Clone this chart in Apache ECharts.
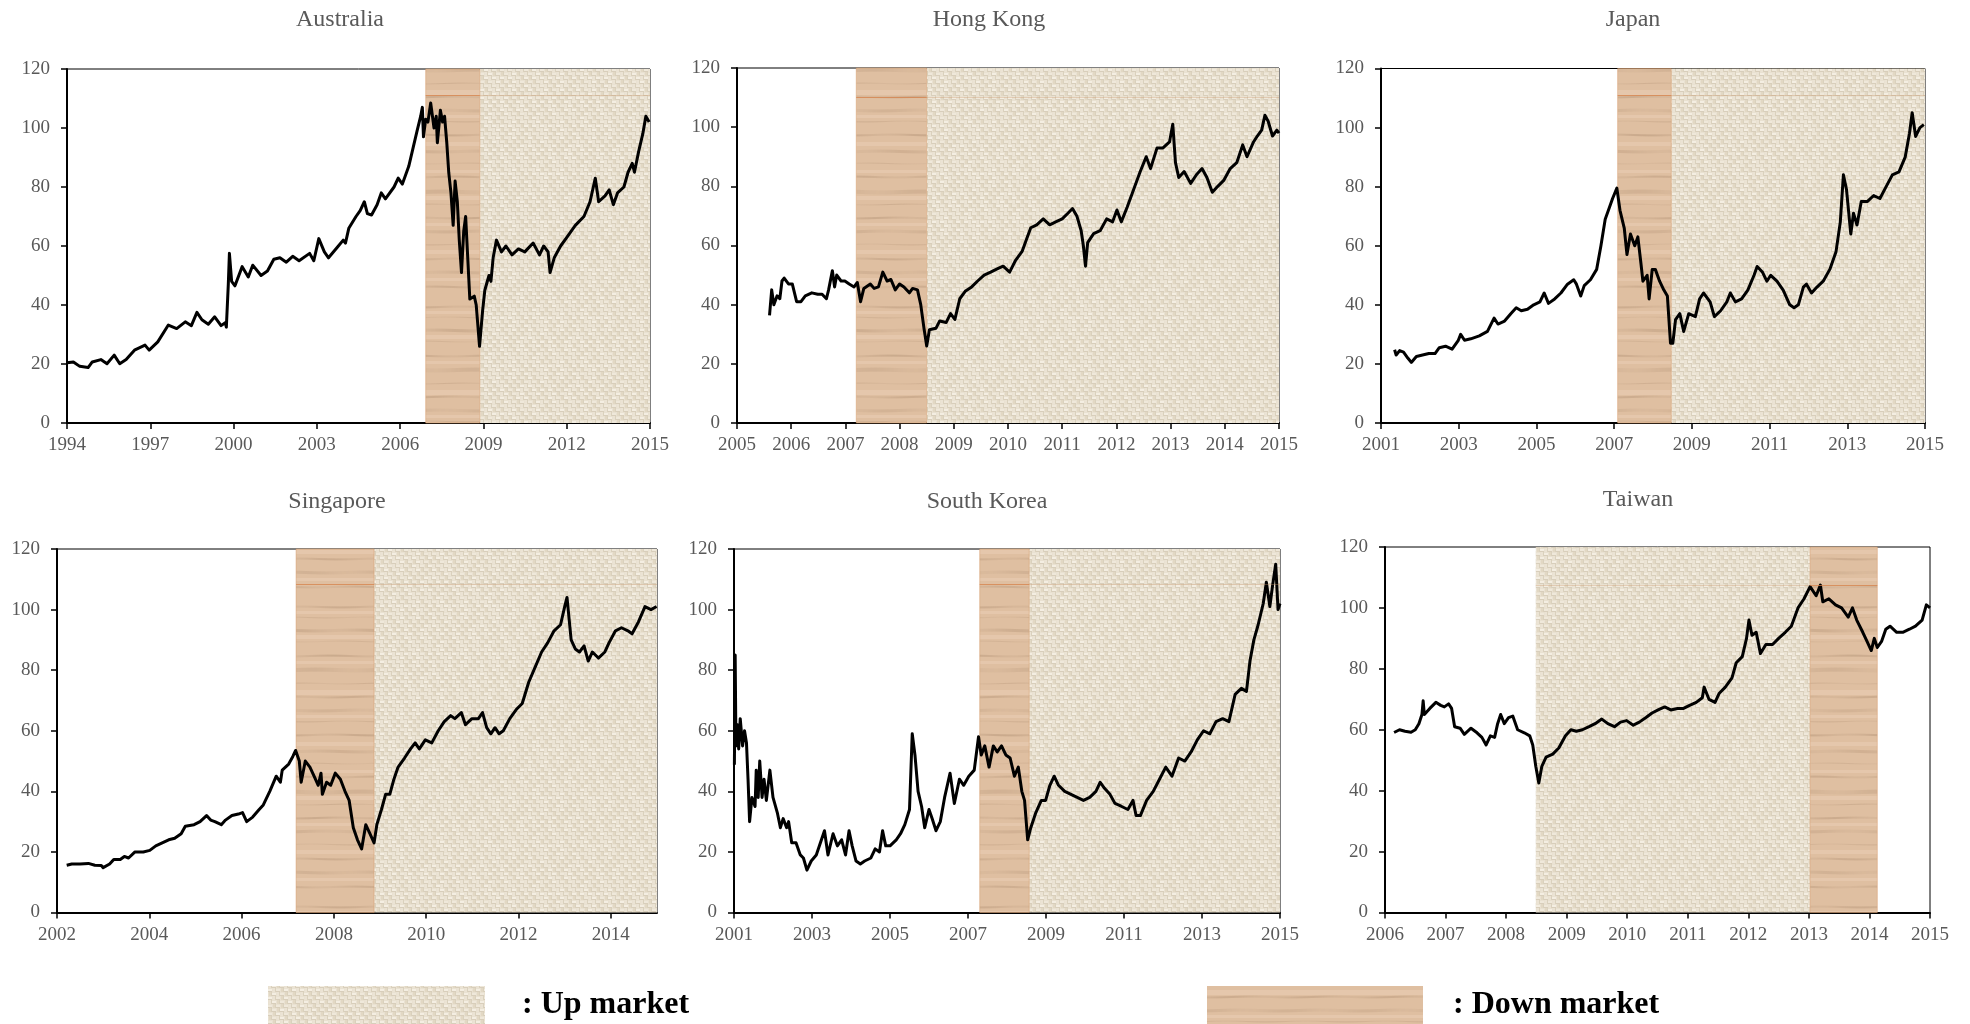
<!DOCTYPE html>
<html>
<head>
<meta charset="utf-8">
<script src="https://cdn.jsdelivr.net/npm/echarts@6/dist/echarts.min.js"></script>
<style>
html,body{margin:0;padding:0;background:#fff;}
#chart{width:1970px;height:1024px;}
</style>
</head>
<body>
<div id="chart"></div>
<script>
// ---------- DATA ----------
const australiaYears = [1994.00,1994.23,1994.46,1994.76,1994.91,1995.22,1995.44,1995.70,1995.90,1996.13,1996.43,1996.81,1996.96,1997.27,1997.65,1997.95,1998.26,1998.48,1998.68,1998.86,1999.09,1999.32,1999.55,1999.70,1999.74,1999.81,1999.85,1999.93,2000.05,2000.31,2000.53,2000.69,2000.99,2001.22,2001.45,2001.67,2001.90,2002.13,2002.36,2002.74,2002.89,2003.07,2003.27,2003.42,2003.73,2003.95,2004.03,2004.15,2004.41,2004.56,2004.71,2004.82,2004.97,2005.17,2005.32,2005.47,2005.78,2005.93,2006.08,2006.31,2006.46,2006.61,2006.74,2006.80,2006.84,2006.92,2007.00,2007.10,2007.22,2007.30,2007.34,2007.45,2007.53,2007.60,2007.68,2007.75,2007.83,2007.91,2007.98,2008.06,2008.13,2008.21,2008.29,2008.36,2008.44,2008.51,2008.67,2008.74,2008.86,2008.97,2009.05,2009.20,2009.27,2009.35,2009.47,2009.65,2009.81,2010.03,2010.26,2010.49,2010.79,2011.02,2011.17,2011.33,2011.40,2011.55,2011.78,2012.01,2012.31,2012.62,2012.84,2013.03,2013.15,2013.38,2013.53,2013.68,2013.83,2014.06,2014.21,2014.36,2014.44,2014.59,2014.74,2014.85,2014.97];
const australiaValues = [20.4,20.7,19.2,18.8,20.7,21.5,20.1,23.0,20.1,21.5,24.7,26.4,24.7,27.5,33.2,32.0,34.3,33,37.5,35,33.5,36,33,34,32.5,47,57.5,48,46.5,53,49.5,53.5,50,51.5,55.5,56,54.5,56.5,55,57.5,55,62.5,58,56,59.5,62,61,66,70,72,75,71,70.5,74,78,76,80,83,81,87,93,99,104,107,97,103,102,108.5,100,104,95,106,102,104,95,85,78,67,82,75,62,51,65,70,55,42,43,40,26,38,45,50,48,56,62,58,60,57,59,58,61,57,60,58,51,56,60,63,67,70,75,83,75,77,79,74,78,80,85,88,85,92,98,104,102];

const hongKongYears = [2005.60,2005.64,2005.68,2005.74,2005.79,2005.83,2005.87,2005.95,2006.02,2006.10,2006.18,2006.26,2006.38,2006.49,2006.57,2006.65,2006.69,2006.76,2006.80,2006.84,2006.92,2006.99,2007.07,2007.16,2007.22,2007.28,2007.34,2007.46,2007.53,2007.61,2007.69,2007.77,2007.84,2007.92,2008.00,2008.08,2008.18,2008.24,2008.33,2008.39,2008.45,2008.50,2008.55,2008.67,2008.74,2008.86,2008.94,2009.02,2009.11,2009.21,2009.33,2009.44,2009.56,2009.68,2009.79,2009.91,2010.03,2010.14,2010.26,2010.34,2010.42,2010.53,2010.65,2010.77,2010.88,2011.00,2011.11,2011.19,2011.27,2011.35,2011.39,2011.43,2011.47,2011.58,2011.70,2011.82,2011.93,2012.01,2012.09,2012.20,2012.32,2012.44,2012.55,2012.63,2012.75,2012.86,2012.98,2013.04,2013.09,2013.15,2013.25,2013.37,2013.48,2013.58,2013.67,2013.77,2013.87,2013.98,2014.10,2014.22,2014.33,2014.41,2014.53,2014.60,2014.68,2014.74,2014.80,2014.88,2014.96,2015.00];
const hongKongValues = [36.4,45,40,43,42,48,49,47,47,41,41,43,44,43.5,43.5,42,45,51.5,46,50,48,48,47,46,47.5,41,45.5,47,45.5,46,51,48,48.5,45,47,46,44,45.5,45,40,32,26,31.5,32,34.5,34,37,35,42,44.5,46,48,50,51,52,53,51,55,58,62,66,67,69,67,68,69,71,72.5,70,65,60,53,61,64,65,69,68,72,68,73,79,85,90,86,93,93,95,101,88,83,85,81,84,86,83,78,80,82,86,88,94,90,95,97,99,104,102,97,99,98];

const japanYears = [2001.35,2001.39,2001.48,2001.58,2001.69,2001.78,2001.91,2002.07,2002.23,2002.39,2002.50,2002.66,2002.83,2002.99,2003.05,2003.15,2003.31,2003.53,2003.74,2003.91,2004.01,2004.18,2004.34,2004.48,2004.61,2004.77,2004.93,2005.09,2005.20,2005.31,2005.47,2005.63,2005.80,2005.96,2006.03,2006.14,2006.23,2006.39,2006.55,2006.66,2006.77,2006.88,2006.96,2007.07,2007.15,2007.26,2007.33,2007.42,2007.53,2007.61,2007.69,2007.74,2007.85,2007.90,2007.98,2008.06,2008.17,2008.28,2008.37,2008.45,2008.51,2008.58,2008.69,2008.79,2008.92,2009.09,2009.20,2009.30,2009.47,2009.58,2009.74,2009.90,2009.99,2010.12,2010.28,2010.44,2010.60,2010.68,2010.82,2010.93,2011.03,2011.19,2011.35,2011.52,2011.63,2011.74,2011.87,2011.95,2012.08,2012.22,2012.38,2012.55,2012.71,2012.82,2012.90,2012.98,2013.09,2013.16,2013.25,2013.36,2013.52,2013.68,2013.84,2014.00,2014.16,2014.33,2014.49,2014.60,2014.67,2014.76,2014.87,2014.97];
const japanValues = [24.8,23,24.5,24,22,20.5,22.5,23,23.5,23.5,25.5,26,25,28,30,28,28.5,29.5,31,35.5,33.5,34.5,37,39,38,38.5,40,41,44,40.5,42,44,47,48.5,47,43,46.5,48.5,52,60,69,73,76,79.5,72,66,57,64,60,63,54,48,50,42,52,52,48,45,43,27,27,35,37,31,37,36,42,44,41,36,38,41,44,41,42,45,50,53,51,48,50,48,45,40,39,40,46,47,44,46,48,52,58,68,84,79,64,71,67,75,75,77,76,80,84,85,90,98,105,97,100,101];

const singaporeYears = [2002.21,2002.32,2002.50,2002.68,2002.82,2002.96,2003.00,2003.14,2003.23,2003.37,2003.46,2003.55,2003.69,2003.87,2004.01,2004.14,2004.28,2004.42,2004.55,2004.69,2004.78,2004.97,2005.10,2005.24,2005.33,2005.42,2005.56,2005.65,2005.79,2005.93,2006.02,2006.11,2006.24,2006.38,2006.47,2006.61,2006.75,2006.84,2006.88,2007.02,2007.11,2007.17,2007.25,2007.29,2007.38,2007.48,2007.57,2007.66,2007.72,2007.75,2007.84,2007.93,2008.03,2008.14,2008.24,2008.33,2008.42,2008.51,2008.60,2008.69,2008.78,2008.87,2008.93,2009.03,2009.12,2009.21,2009.30,2009.39,2009.53,2009.66,2009.76,2009.85,2009.98,2010.12,2010.26,2010.39,2010.53,2010.62,2010.76,2010.85,2010.99,2011.13,2011.22,2011.31,2011.40,2011.49,2011.58,2011.67,2011.81,2011.95,2012.08,2012.22,2012.36,2012.50,2012.63,2012.77,2012.91,2013.00,2013.05,2013.14,2013.23,2013.32,2013.42,2013.51,2013.60,2013.73,2013.87,2013.96,2014.10,2014.23,2014.37,2014.46,2014.60,2014.74,2014.87,2014.99];
const singaporeValues = [15.6,16,16,16.2,15.6,15.5,14.8,16,17.5,17.5,18.5,18,20,20,20.5,22,23,24,24.5,26,28.5,29,30,32,30.5,30,29,30.5,32,32.5,33,30,31.5,34,35.5,40,45,43,47,49,51.5,53.5,50,43,50,48,45,42,46,39,43,42,46,44,40,37,28,24,21,29,26,23,29,34,39,39,44,48,51,54,56,54,57,56,60,63,65,64,66,62,64,64,66,61,59,61,59,60,64,67,69,76,81,86,89,93,95,101,104,90,87,86,88,83,86,84,86,89,93,94,93,92,96,101,100,101];

const southKoreaYears = [2001.01,2001.03,2001.05,2001.09,2001.12,2001.16,2001.22,2001.27,2001.32,2001.36,2001.40,2001.46,2001.54,2001.57,2001.62,2001.66,2001.72,2001.77,2001.83,2001.92,2002.00,2002.11,2002.19,2002.26,2002.35,2002.40,2002.48,2002.59,2002.70,2002.78,2002.87,2002.98,2003.11,2003.19,2003.32,2003.41,2003.54,2003.65,2003.76,2003.86,2003.95,2004.03,2004.13,2004.24,2004.35,2004.51,2004.62,2004.73,2004.81,2004.89,2005.00,2005.16,2005.27,2005.38,2005.50,2005.57,2005.64,2005.72,2005.81,2005.89,2006.00,2006.08,2006.18,2006.29,2006.40,2006.54,2006.65,2006.78,2006.89,2007.02,2007.16,2007.27,2007.34,2007.43,2007.54,2007.65,2007.75,2007.86,2007.97,2008.08,2008.19,2008.29,2008.38,2008.45,2008.53,2008.61,2008.74,2008.88,2008.99,2009.10,2009.21,2009.32,2009.48,2009.64,2009.80,2009.96,2010.12,2010.28,2010.39,2010.50,2010.64,2010.77,2010.94,2011.10,2011.23,2011.31,2011.42,2011.58,2011.75,2011.91,2012.07,2012.23,2012.40,2012.56,2012.72,2012.88,2013.04,2013.20,2013.36,2013.53,2013.69,2013.85,2014.01,2014.14,2014.23,2014.33,2014.44,2014.57,2014.65,2014.74,2014.81,2014.89,2014.95,2015.00];
const southKoreaValues = [48.8,85,55,62,54,64,55,60,56,44,30,38,35,47,38,50,38,44,37,47,38,33,28,31,28,30,23,23,19,18,14,17,19,22,27,19,26,22,24,19,27,22,17,16,17,18,21,20,27,22,22,24,26,29,34,59,52,40,35,28,34,31,27,30,38,46,36,44,42,45,47,58,52,55,48,55,53,55,52,51,45,48,40,37,24,28,33,37,37,42,45,42,40,39,38,37,38,40,43,41,39,36,35,34,37,32,32,37,40,44,48,45,51,50,53,57,60,59,63,64,63,72,74,73,83,90,95,102,109,101,108,115,100,102];

const taiwanYears = [2006.15,2006.24,2006.33,2006.43,2006.50,2006.56,2006.61,2006.63,2006.65,2006.74,2006.84,2006.92,2006.98,2007.05,2007.10,2007.15,2007.24,2007.31,2007.42,2007.52,2007.60,2007.67,2007.74,2007.81,2007.86,2007.91,2007.97,2008.04,2008.11,2008.19,2008.30,2008.39,2008.44,2008.49,2008.54,2008.59,2008.66,2008.77,2008.87,2008.98,2009.07,2009.16,2009.26,2009.37,2009.47,2009.58,2009.68,2009.79,2009.89,2009.99,2010.10,2010.20,2010.31,2010.41,2010.51,2010.62,2010.72,2010.83,2010.93,2011.03,2011.14,2011.24,2011.27,2011.35,2011.45,2011.52,2011.62,2011.73,2011.80,2011.90,2011.97,2012.01,2012.06,2012.13,2012.20,2012.29,2012.40,2012.50,2012.61,2012.71,2012.82,2012.92,2013.02,2013.12,2013.19,2013.23,2013.33,2013.44,2013.54,2013.65,2013.72,2013.79,2013.89,2013.96,2014.03,2014.08,2014.13,2014.20,2014.27,2014.34,2014.45,2014.55,2014.66,2014.76,2014.87,2014.94,2015.00];
const taiwanValues = [59.1,60,59.5,59.2,60,62,65,69.5,65,67,69,68,67.5,68.5,67,61,60.5,58.5,60.5,59,57.5,55,58,57.5,62,65,62,64,64.5,60,59,58,55,48,42.5,48,51,52,54,58,60,59.5,60,61,62,63.5,62,61,62.5,63,61.5,62.5,64,65.5,66.5,67.5,66.5,67,67,68,69,70.5,74,70,69,72,74,77,82,84,90,96,91,92,85,88,88,90,92,94,100,103,107,104,107.5,102,103,101,100,97,100,96,92,89,86,90,87,89,93,94,92,92,93,94,96,101,100];

// market phases [start, end] in years
const australiaDown = [[2006.92, 2008.87]];
const australiaUp = [[2008.87, 2015.0]];
const hongKongDown = [[2007.20, 2008.50]];
const hongKongUp = [[2008.50, 2015.0]];
const japanDown = [[2007.09, 2008.47]];
const japanUp = [[2008.47, 2015.0]];
const singaporeDown = [[2007.18, 2008.87]];
const singaporeUp = [[2008.87, 2015.0]];
const southKoreaDown = [[2007.30, 2008.57]];
const southKoreaUp = [[2008.57, 2015.0]];
const taiwanDown = [[2013.02, 2014.13]];
const taiwanUp = [[2008.49, 2013.02]];

const yTicks = [0, 20, 40, 60, 80, 100, 120];

// ---------- TEXTURES ----------
function makeLinen() {
  const S = 48;
  const c = document.createElement('canvas'); c.width = S; c.height = S;
  const g = c.getContext('2d');
  g.fillStyle = '#e9e1d1'; g.fillRect(0, 0, S, S);
  for (let j = 0; j < S / 4; j++) for (let i = 0; i < S / 4; i++) {
    const x = i * 4, y = j * 4;
    const k = (i * 5 + j * 3 + ((i * j) % 4)) % 7;
    if ((i + j) % 2 === 0) {
      g.fillStyle = k < 3 ? '#f4eee2' : '#efe8da';
      g.fillRect(x, y + 1, 4, 2);
      g.fillStyle = 'rgba(196,184,160,0.45)';
      g.fillRect(x, y + 3, 4, 1);
    } else {
      g.fillStyle = k < 4 ? '#e2d8c4' : '#ebe3d4';
      g.fillRect(x + 1, y, 2, 4);
      g.fillStyle = 'rgba(196,184,160,0.4)';
      g.fillRect(x + 3, y, 1, 4);
    }
  }
  return c;
}
function makeWood() {
  const W = 80, H = 300;
  const c = document.createElement('canvas'); c.width = W; c.height = H;
  const g = c.getContext('2d');
  g.fillStyle = '#dfbfa1'; g.fillRect(0, 0, W, H);
  const dark = [[6,2,0.22],[17,1,0.16],[29,3,0.2],[41,1,0.14],[55,2,0.24],[68,4,0.15],[83,1,0.18],[96,2,0.22],[109,3,0.14],[121,1,0.2],[134,2,0.25],[150,3,0.17],[163,1,0.15],[176,2,0.22],[190,4,0.16],[204,1,0.2],[217,2,0.23],[230,3,0.16],[244,1,0.18],[258,2,0.22],[271,3,0.15],[286,2,0.2]];
  dark.forEach(([y, h, a], n) => {
    for (let x = 0; x < W; x++) {
      const f = 0.7 + 0.3 * Math.sin((x / W) * Math.PI * 2 + n * 1.7);
      g.fillStyle = 'rgba(140,108,80,' + (a * f).toFixed(3) + ')';
      const dy = Math.sin((x / W) * Math.PI * 2 + n) * 0.4;
      g.fillRect(x, y + dy, 1, h);
    }
  });
  const light = [[11,3],[35,4],[61,3],[90,5],[115,3],[142,4],[170,3],[196,4],[223,3],[250,4],[278,3]];
  light.forEach(([y, h]) => {
    g.fillStyle = 'rgba(240,214,192,0.35)';
    g.fillRect(0, y, W, h);
  });
  return c;
}
const linen = makeLinen();
const wood = makeWood();
const upFill = { image: linen, repeat: 'repeat' };
const downFill = { image: wood, repeat: 'repeat' };

// ---------- PANELS ----------
const FONT = '"Liberation Serif", "Times New Roman", serif';
const panels = [
  { name: 'Australia', years: australiaYears, values: australiaValues, up: australiaUp, down: australiaDown,
    base: 1994, span: 21, step: 3, hideMax: false, rect: [67, 69, 583, 354], titlePos: [340, 20], streak: 111 },
  { name: 'Hong Kong', years: hongKongYears, values: hongKongValues, up: hongKongUp, down: hongKongDown,
    base: 2005, span: 10, step: 1, hideMax: false, rect: [737, 68, 542, 355], titlePos: [989, 20], streak: 110 },
  { name: 'Japan', years: japanYears, values: japanValues, up: japanUp, down: japanDown,
    base: 2001, span: 14, step: 2, hideMax: false, rect: [1381, 68.5, 544, 354.5], titlePos: [1633, 20], streak: 111 },
  { name: 'Singapore', years: singaporeYears, values: singaporeValues, up: singaporeUp, down: singaporeDown,
    base: 2002, span: 13, step: 2, hideMax: true, rect: [57, 549, 600, 363.5], titlePos: [337, 502], streak: 108.5 },
  { name: 'South Korea', years: southKoreaYears, values: southKoreaValues, up: southKoreaUp, down: southKoreaDown,
    base: 2001, span: 14, step: 2, hideMax: false, rect: [734, 549, 546, 363.5], titlePos: [987, 502], streak: 108.5 },
  { name: 'Taiwan', years: taiwanYears, values: taiwanValues, up: taiwanUp, down: taiwanDown,
    base: 2006, span: 9, step: 1, hideMax: false, rect: [1385, 547, 545, 365.5], titlePos: [1638, 500], streak: 107.5 }
];

const grid = [], xAxis = [], yAxis = [], series = [], visualMap = [], graphic = [];
panels.forEach((p, i) => {
  const [l, t, w, h] = p.rect;
  grid.push({ left: l, top: t, width: w, height: h, show: true, borderColor: '#000', borderWidth: 1,
    backgroundColor: 'transparent', containLabel: false, outerBoundsMode: 'none' });
  xAxis.push({
    type: 'value', gridIndex: i, min: 0, max: p.span, interval: p.step,
    axisLine: { show: true, onZero: false, lineStyle: { color: '#000', width: 2 } },
    axisTick: { show: true, length: 6, lineStyle: { color: '#000', width: 1.5 } },
    axisLabel: { formatter: v => String(p.base + Math.round(v)), color: '#595959', fontFamily: FONT, fontSize: 19, margin: 13,
      showMinLabel: true, showMaxLabel: !p.hideMax, hideOverlap: false },
    splitLine: { show: false }
  });
  yAxis.push({
    type: 'value', gridIndex: i, min: yTicks[0], max: yTicks[yTicks.length - 1], interval: yTicks[1] - yTicks[0],
    axisLine: { show: true, onZero: false, lineStyle: { color: '#000', width: 2 } },
    axisTick: { show: true, length: 6, lineStyle: { color: '#000', width: 1.5 } },
    axisLabel: { color: '#595959', fontFamily: FONT, fontSize: 19, margin: 17 },
    splitLine: { show: false }
  });
  const pts = p.years.map((yr, k) => [yr - p.base, p.values[k]]);
  const areas = [];
  p.up.forEach(r => areas.push([{ xAxis: r[0] - p.base, itemStyle: { color: upFill, opacity: 1 } }, { xAxis: r[1] - p.base }]));
  p.down.forEach(r => areas.push([{ xAxis: r[0] - p.base, itemStyle: { color: downFill, opacity: 1,
    borderColor: 'rgba(214,150,100,0.45)', borderWidth: 1 } }, { xAxis: r[1] - p.base }]));
  const shaded = p.up.concat(p.down);
  const lines = p.up.map(r => [{ coord: [r[0] - p.base, p.streak], lineStyle: { color: 'rgba(200,150,105,0.35)' } },
                               { coord: [r[1] - p.base, p.streak] }])
    .concat(p.down.map(r => [{ coord: [r[0] - p.base, p.streak], lineStyle: { color: 'rgba(214,130,75,0.75)' } },
                             { coord: [r[1] - p.base, p.streak] }]));
  series.push({
    type: 'line', xAxisIndex: i, yAxisIndex: i, data: pts, showSymbol: false, silent: true, z: 1,
    lineStyle: { opacity: 0, width: 0 }, itemStyle: { opacity: 0 },
    markArea: { silent: true, data: areas },
    markLine: { silent: true, symbol: 'none', label: { show: false },
      lineStyle: { width: 1, type: 'solid' }, data: lines }
  });
  const lineIdx = series.length;
  series.push({
    type: 'line', xAxisIndex: i, yAxisIndex: i, data: pts, showSymbol: false, silent: true, z: 3,
    lineStyle: { width: 3, color: '#000', join: 'round' }
  });
  visualMap.push({
    type: 'piecewise', show: false, dimension: 0, seriesIndex: lineIdx,
    pieces: shaded.map(r => ({ gte: r[0] - p.base, lte: r[1] - p.base, color: '#3f3426' })),
    outOfRange: { color: '#000' }
  });
  graphic.push({
    type: 'text', x: p.titlePos[0], y: p.titlePos[1],
    style: { text: p.name, fill: '#595959', font: '24px ' + FONT, align: 'center', verticalAlign: 'middle',
      textAlign: 'center', textVerticalAlign: 'middle' }
  });
});

// legend
graphic.push({ type: 'rect', shape: { x: 268, y: 986, width: 217, height: 40 }, style: { fill: upFill } });
graphic.push({ type: 'rect', shape: { x: 1207, y: 986, width: 216, height: 40 }, style: { fill: downFill } });
graphic.push({ type: 'text', x: 522, y: 1005, style: { text: ': Up market', fill: '#000', font: 'bold 32px ' + FONT,
  align: 'left', verticalAlign: 'middle', textAlign: 'left', textVerticalAlign: 'middle' } });
graphic.push({ type: 'text', x: 1453, y: 1005, style: { text: ': Down market', fill: '#000', font: 'bold 32px ' + FONT,
  align: 'left', verticalAlign: 'middle', textAlign: 'left', textVerticalAlign: 'middle' } });

const chart = echarts.init(document.getElementById('chart'), null, { renderer: 'canvas', width: 1970, height: 1024 });
chart.setOption({
  animation: false,
  backgroundColor: '#ffffff',
  grid, xAxis, yAxis, series, visualMap, graphic
});
</script>
</body>
</html>
